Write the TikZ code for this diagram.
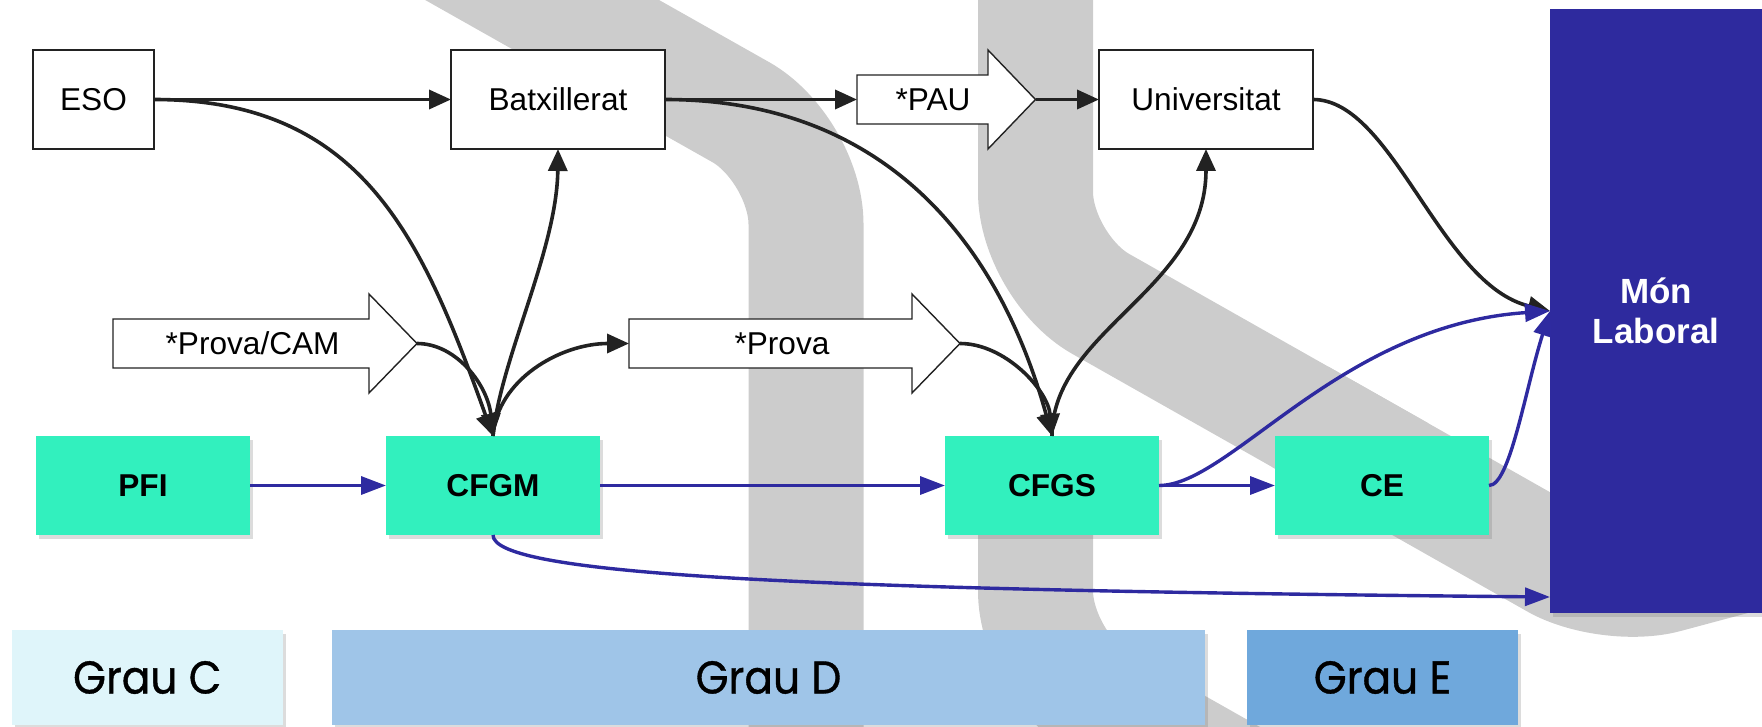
\documentclass[tikz,border=0pt]{standalone}
\usepackage{fontspec}
\setmainfont{Liberation Sans}
\newfontfamily\graufont[FakeStretch=0.92,FakeBold=0.8]{Poppins}
\usetikzlibrary{arrows.meta,shadows}
\definecolor{teal1}{RGB}{50,240,190}
\definecolor{moncol}{RGB}{46,42,158}
\definecolor{blucol}{RGB}{46,42,160}
\definecolor{ink}{RGB}{34,34,34}
\definecolor{bandcol}{RGB}{204,204,204}
\definecolor{grauC}{RGB}{223,245,250}
\definecolor{grauD}{RGB}{159,197,232}
\definecolor{grauE}{RGB}{111,168,220}
\begin{document}
\begin{tikzpicture}[x=0.5pt,y=-0.5pt,
  every node/.style={inner sep=0pt, outer sep=0pt},
  txt/.style={font=\fontsize{15.8}{18}\selectfont, text=black},
  whitebox/.style={draw=ink, line width=1pt, fill=white, minimum height=49.5pt, txt},
  shad/.style={drop shadow={shadow xshift=1.5pt, shadow yshift=-1.8pt, opacity=0.28}},
  greenbox/.style={fill=teal1, minimum width=107pt, minimum height=49.5pt, font=\bfseries\fontsize{15.8}{18}\selectfont, shad},
  graubox/.style={minimum height=47.5pt, font=\graufont\fontsize{23}{26}\selectfont, shad},
  arrowshape/.style={draw=ink, line width=0.7pt, fill=white},
  blk/.style={draw=ink, line width=1.8pt, -{Triangle[length=11pt,width=9.5pt]}},
  blu/.style={draw=blucol, line width=1.7pt, -{Triangle[length=12.5pt,width=9pt]}},
  bandline/.style={draw=bandcol, line width=57.5pt}
]
\useasboundingbox (0,0) rectangle (1762,727);
% background bands
\draw[bandline, rounded corners=37.5pt] (342,-113) -- (806,149) -- (806,800);
\draw[bandline, rounded corners=37.5pt] (1035.5,-60) -- (1035.5,267) -- (1400,473.3);
\draw[bandline, rounded corners=30pt] (1300,416.7) -- (1607.8,591) -- (1900,512.7);
\draw[bandline, rounded corners=37.5pt] (1035.5,460) -- (1035.5,666) -- (1400,872.3);
% grade boxes
\node[graubox, fill=grauC, minimum width=135.75pt] (grauc) at (147.25,677.5) {Grau C};
\node[graubox, fill=grauD, minimum width=436.5pt] (graud) at (768.5,677.5) {Grau D};
\node[graubox, fill=grauE, minimum width=135.5pt] (graue) at (1382.5,677.5) {Grau E};
% labour market
\node[fill=moncol, minimum width=106pt, minimum height=302pt, text=white, align=center,
      font=\bfseries\fontsize{17.5}{20}\selectfont, shad] (mon) at (1656,311) {Món\\Laboral};
\coordinate (monlow) at ([yshift=8pt]mon.south west);
% white boxes
\node[whitebox, minimum width=60.5pt] (eso) at (93.5,99.5) {ESO};
\node[whitebox, minimum width=107pt] (batx) at (558,99.5) {Batxillerat};
\node[whitebox, minimum width=107pt] (univ) at (1206,99.5) {Universitat};
% block arrows
\coordinate (pautail) at (857,99.5);
\coordinate (pautip) at (1035.5,99.5);
\draw[arrowshape] (857,75) -- (988,75) -- (988,50) -- (pautip) -- (988,149) -- (988,124) -- (857,124) -- cycle;
\node[txt] (pau) at (933,99.5) {*PAU};
\coordinate (pcamtail) at (113,343.5);
\coordinate (pcamtip) at (417,343.5);
\draw[arrowshape] (113,319) -- (369,319) -- (369,294) -- (pcamtip) -- (369,393) -- (369,368) -- (113,368) -- cycle;
\node[txt] (pcam) at (252.6,343.5) {*Prova/CAM};
\coordinate (provatail) at (629,343.5);
\coordinate (provatip) at (960,343.5);
\draw[arrowshape] (629,319) -- (912,319) -- (912,294) -- (provatip) -- (912,393) -- (912,368) -- (629,368) -- cycle;
\node[txt] (prova) at (782,343.5) {*Prova};
% green boxes
\node[greenbox] (pfi) at (143,485.5) {PFI};
\node[greenbox] (cfgm) at (493,485.5) {CFGM};
\node[greenbox] (cfgs) at (1052,485.5) {CFGS};
\node[greenbox] (ce) at (1382,485.5) {CE};
% black connectors
\draw[blk] (eso.east) -- (batx.west);
\draw[blk] (eso.east) .. controls +(210,0) and +(-70,-195) .. (cfgm.north);
\draw[blk] (batx.east) -- (pautail);
\draw[blk] (batx.east) .. controls +(220,0) and +(-53,-193) .. (cfgs.north);
\draw[blk] (pautip) -- (univ.west);
\draw[blk] (univ.east) .. controls +(80,0) and +(-110,-26) .. (mon.west);
\draw[blk] (cfgm.north) .. controls +(7,-76) and +(-1,101) .. (batx.south);
\draw[blk] (pcamtip) .. controls +(40,0) and +(-5,-50) .. (cfgm.north);
\draw[blk] (cfgm.north) .. controls +(4,-56) and +(-69,0) .. (provatail);
\draw[blk] (provatip) .. controls +(45,0) and +(-4,-46) .. (cfgs.north);
\draw[blk] (cfgs.north) .. controls +(0,-106) and +(0,141) .. (univ.south);
% blue connectors
\draw[blu] (pfi.east) -- (cfgm.west);
\draw[blu] (cfgm.east) -- (cfgs.west);
\draw[blu] (cfgs.east) -- (ce.west);
\draw[blu] (cfgs.east) .. controls +(71,0) and +(-210,14) .. (mon.west);
\draw[blu] (ce.east) .. controls +(21,0) and +(-25,79) .. (mon.west);
\draw[blu] (cfgm.south) .. controls +(0,40) and +(-750,-7) .. (monlow);
\end{tikzpicture}
\end{document}
